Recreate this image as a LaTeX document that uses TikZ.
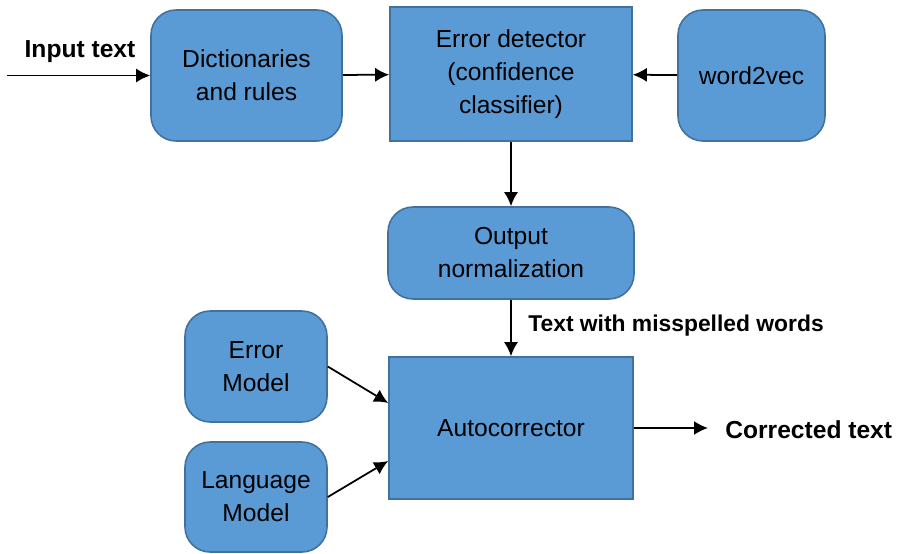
\documentclass[tikz,border=0pt]{standalone}
\usepackage{fontspec}
\setmainfont{Liberation Sans}
\usepackage{tikz}
\usetikzlibrary{calc, arrows.meta}

\definecolor{boxblue}{HTML}{5B9BD5}
\definecolor{boxedge}{HTML}{41719C}

\tikzset{
  blk/.style={draw=boxedge, fill=boxblue, line width=0.9pt, align=center,
    font=\fontsize{14}{18.8}\selectfont, inner sep=0pt},
  rblk/.style={blk, rounded corners=0.5cm},
  lbl/.style={font=\fontsize{14}{16}\selectfont\bfseries, inner sep=0pt},
  arr/.style={->, line width=1pt}
}

\begin{document}
\begin{tikzpicture}[>={Latex[length=2.8mm,width=2.8mm]}]
\useasboundingbox (0,0) rectangle (17.94,-11.08);

\node[rblk, minimum width=3.82cm, minimum height=2.62cm] (dict) at (4.93,-1.51) {Dictionaries\\and rules};
\node[blk, minimum width=4.84cm, minimum height=2.68cm] (det) at (10.22,-1.48) {Error detector\\(confidence\\classifier)};
\node[rblk, minimum width=2.94cm, minimum height=2.62cm] (w2v) at (15.03,-1.51) {word2vec};

\node[rblk, minimum width=4.92cm, minimum height=1.84cm] (norm) at (10.22,-5.06) {Output\\normalization};

\node[rblk, minimum width=2.84cm, minimum height=2.22cm] (errm) at (5.12,-7.33) {Error\\Model};
\node[rblk, minimum width=2.84cm, minimum height=2.2cm] (langm) at (5.12,-9.94) {Language\\Model};
\node[blk, minimum width=4.88cm, minimum height=2.84cm] (auto) at (10.22,-8.56) {Autocorrector};

% input
\coordinate (in) at (0.14,-1.51);
\node[lbl] (intext) at (1.6,-1.04) {Input text};
\draw[arr] (in) -- (dict.west);

% top row
\draw[arr] (dict) -- (det);
\draw[arr] (w2v) -- (det);

% down
\draw[arr] (det) -- (norm);
\draw[arr] (norm) -- (auto);
\node[lbl, font=\fontsize{13}{16}\selectfont\bfseries, anchor=west] (miss) at (10.56,-6.52) {Text with misspelled words};

% models
\draw[arr] (errm.east) -- ($(auto.west)+(0,0.5)$);
\draw[arr] (langm.east) -- ($(auto.west)+(0,-0.66)$);

% output
\node[lbl, anchor=west] (outtext) at (14.5,-8.6) {Corrected text};
\draw[arr] (auto.east) -- ($(outtext.west)+(-0.34,0.04)$);

\end{tikzpicture}
\end{document}
